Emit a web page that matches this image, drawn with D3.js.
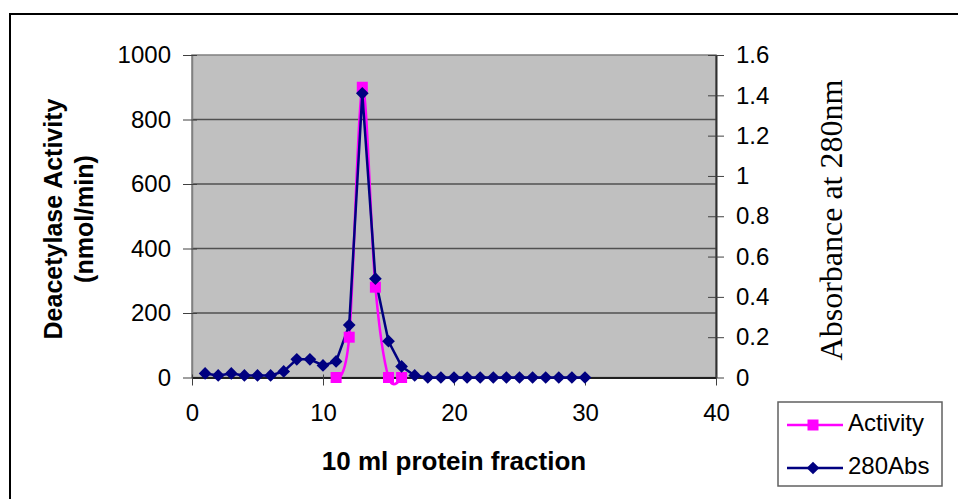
<!DOCTYPE html>
<html>
<head>
<meta charset="utf-8">
<script src="https://cdn.jsdelivr.net/npm/d3@7"></script>
<style>
  html, body { margin: 0; padding: 0; background: #fff; }
  svg { display: block; }
  text { font-family: Arial, "Liberation Sans", sans-serif; }
</style>
</head>
<body>
<svg id="chart" width="958" height="499"></svg>
<script>
// Protein fractions (10 ml each)
const fractions = [1,2,3,4,5,6,7,8,9,10,11,12,13,14,15,16,17,18,19,20,21,22,23,24,25,26,27,28,29,30];
// Absorbance at 280 nm for each fraction
const abs280 = [0.02,0.01,0.02,0.01,0.01,0.01,0.03,0.09,0.09,0.06,0.08,0.26,1.41,0.49,0.18,0.055,0.01,0,0,0,0,0,0,0,0,0,0,0,0,0];
// Deacetylase activity, measured for fractions 11-16
const activityFractions = [11,12,13,14,15,16];
const activity = [0,125,900,280,0,0];

const xTicks = [0,10,20,30,40];
const leftTicks = [0,200,400,600,800,1000];
const rightTicks = [0,0.2,0.4,0.6,0.8,1,1.2,1.4,1.6];

const svg = d3.select("#chart");
const plot = {left: 192, right: 716, top: 55, bottom: 377.5};

const x = d3.scaleLinear().domain([0,40]).range([plot.left, plot.right]);
const yL = d3.scaleLinear().domain([0,1000]).range([plot.bottom, plot.top]);
const yR = d3.scaleLinear().domain([0,1.6]).range([plot.bottom, plot.top]);

// outer frame
svg.append("rect").attr("x",10).attr("y",14).attr("width",960).attr("height",500)
  .attr("fill","#fff").attr("stroke","#000").attr("stroke-width",2);

// plot area
svg.append("rect").attr("x",plot.left).attr("y",plot.top)
  .attr("width",plot.right-plot.left).attr("height",plot.bottom-plot.top)
  .attr("fill","#c0c0c0").attr("stroke","#808080").attr("stroke-width",1.5);

// horizontal gridlines at left-axis ticks
svg.append("g").selectAll("line").data(leftTicks.filter(d => d > 0 && d < 1000)).join("line")
  .attr("x1",plot.left).attr("x2",plot.right)
  .attr("y1",d => yL(d)).attr("y2",d => yL(d))
  .attr("stroke","#505050").attr("stroke-width",1.5);

// left axis
const gL = svg.append("g").attr("transform",`translate(${plot.left},0)`)
  .call(d3.axisLeft(yL).tickValues(leftTicks).tickSizeInner(9).tickSizeOuter(0).tickPadding(12).tickFormat(d3.format("d")));
gL.select(".domain").attr("stroke","#808080").attr("stroke-width",1.5);
gL.selectAll(".tick line").attr("stroke","#404040").attr("x2",-9).attr("x1",5);
gL.selectAll("text").attr("font-size",24).attr("fill","#000");

// right axis
const gR = svg.append("g").attr("transform",`translate(${plot.right},0)`)
  .call(d3.axisRight(yR).tickValues(rightTicks).tickSizeInner(8).tickSizeOuter(0).tickPadding(12).tickFormat(d => d3.format("")(+d.toFixed(1))));
gR.select(".domain").attr("stroke","#303030").attr("stroke-width",2);
gR.selectAll(".tick line").attr("stroke","#404040").attr("x1",-8).attr("x2",8);
gR.selectAll("text").attr("font-size",24).attr("fill","#000");

// bottom axis
const gB = svg.append("g").attr("transform",`translate(0,${plot.bottom})`)
  .call(d3.axisBottom(x).tickValues(xTicks).tickSizeInner(8).tickSizeOuter(0).tickPadding(18));
gB.select(".domain").attr("stroke","#202020").attr("stroke-width",2);
gB.selectAll(".tick line").attr("stroke","#404040").attr("y1",-3);
gB.selectAll("text").attr("font-size",24).attr("fill","#000");

// axis titles
svg.append("text").attr("transform","translate(62,219) rotate(-90)")
  .attr("text-anchor","middle").attr("font-weight","bold").attr("font-size",25)
  .text("Deacetylase Activity");
svg.append("text").attr("transform","translate(93,219) rotate(-90)")
  .attr("text-anchor","middle").attr("font-weight","bold").attr("font-size",25)
  .text("(nmol/min)");
svg.append("text").attr("x",454).attr("y",470)
  .attr("text-anchor","middle").attr("font-weight","bold").attr("font-size",26)
  .text("10 ml protein fraction");
svg.append("text").attr("transform","translate(842,220) rotate(-90)")
  .attr("text-anchor","middle").attr("font-size",32)
  .style("font-family","'Times New Roman', 'Liberation Serif', serif")
  .text("Absorbance at 280nm");

const magenta = "#ff00ff", navy = "#000080";
const diamondPath = d3.symbol().type(d3.symbolSquare).size(81);

// activity series (smoothed)
const actPts = activityFractions.map((f,i) => [f, activity[i]]);
svg.append("path").datum(actPts)
  .attr("d", d3.line().x(d => x(d[0])).y(d => yL(d[1])).curve(d3.curveCardinal.tension(0)))
  .attr("fill","none").attr("stroke",magenta).attr("stroke-width",2.5);

// absorbance series
const absPts = fractions.map((f,i) => [f, abs280[i]]);
svg.append("path").datum(absPts)
  .attr("d", d3.line().x(d => x(d[0])).y(d => yR(d[1])))
  .attr("fill","none").attr("stroke",navy).attr("stroke-width",2.5);

svg.append("g").selectAll("rect").data(actPts).join("rect")
  .attr("x",d => x(d[0]) - 5.5).attr("y",d => yL(d[1]) - 5.5)
  .attr("width",11).attr("height",11).attr("fill",magenta);

svg.append("g").selectAll("path").data(absPts).join("path")
  .attr("transform",d => `translate(${x(d[0])},${yR(d[1])}) rotate(45)`)
  .attr("d", diamondPath)
  .attr("fill",navy);

// legend
const lg = svg.append("g");
lg.append("rect").attr("x",778).attr("y",402).attr("width",164).attr("height",84)
  .attr("fill","#fff").attr("stroke","#606060").attr("stroke-width",1.5);
const legendItems = [
  {name:"Activity", color:magenta, y:425, shape:"square"},
  {name:"280Abs", color:navy, y:468, shape:"diamond"}
];
legendItems.forEach(it => {
  lg.append("line").attr("x1",787).attr("x2",843).attr("y1",it.y).attr("y2",it.y)
    .attr("stroke",it.color).attr("stroke-width",2.5);
  if (it.shape === "square") {
    lg.append("rect").attr("x",813-5.5).attr("y",it.y-5.5).attr("width",11).attr("height",11).attr("fill",it.color);
  } else {
    lg.append("path").attr("transform",`translate(813,${it.y}) rotate(45)`)
      .attr("d", diamondPath).attr("fill",it.color);
  }
  lg.append("text").attr("x",848).attr("y",it.y + 5.5).attr("font-size",24).text(it.name);
});
</script>
</body>
</html>
